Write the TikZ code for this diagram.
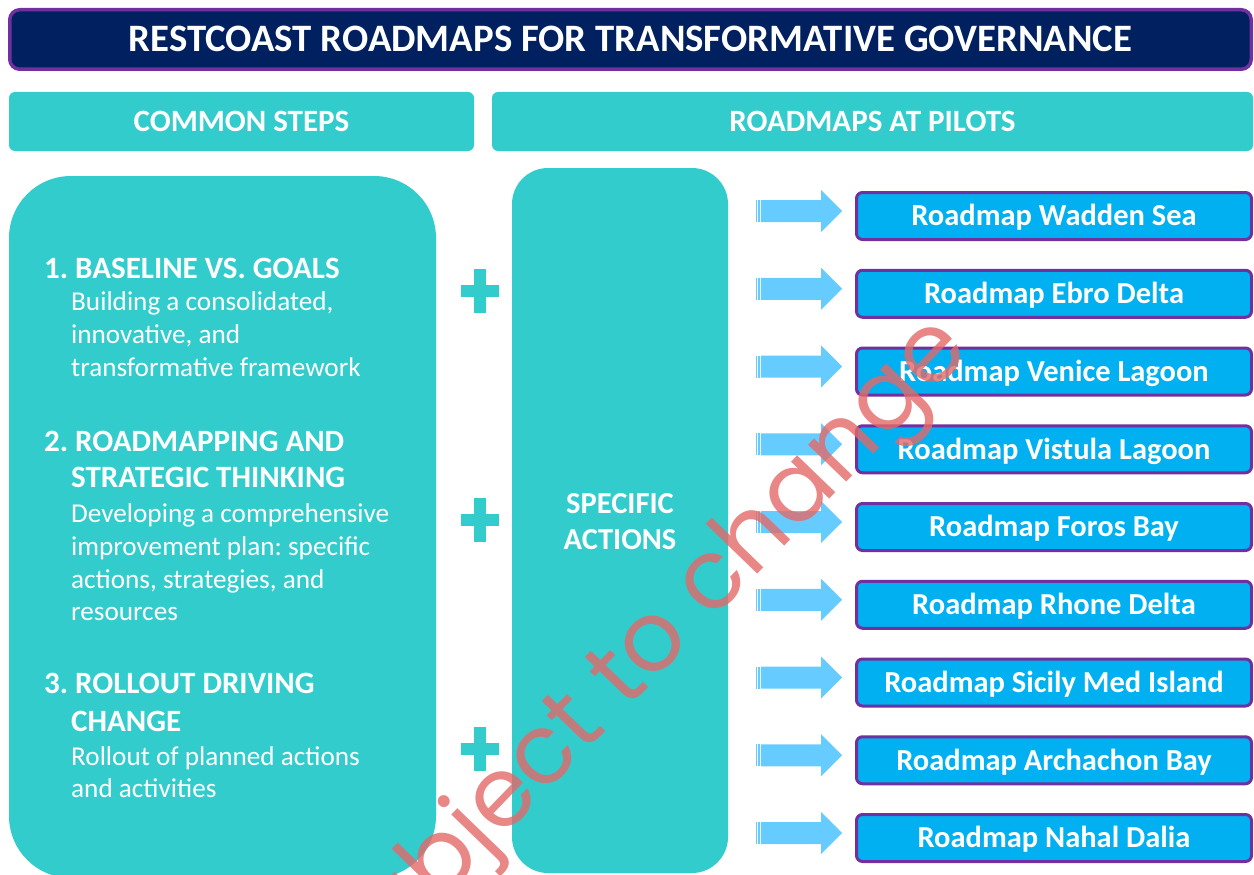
\documentclass[tikz,border=0pt]{standalone}
\usepackage{fontspec}
\setmainfont{Carlito}
\newfontfamily\wmfont{Poppins}
\usetikzlibrary{calc}
\frenchspacing

\definecolor{navyfill}{HTML}{002060}
\definecolor{violetline}{HTML}{7030A0}
\definecolor{tealfill}{HTML}{33CCCC}
\definecolor{roadfill}{HTML}{00B0F0}
\definecolor{arrowfill}{HTML}{66CCFF}
\definecolor{wmred}{RGB}{228,105,105}

\tikzset{
  titlebox/.style={draw=violetline, line width=3.5, fill=navyfill, rounded corners=10,
    text=white, font=\fontsize{38.8}{42}\selectfont\bfseries,
    minimum width=1241.5, minimum height=59.5, inner sep=0,
    text height=25, text depth=0},
  headbox/.style={fill=tealfill, rounded corners=6, text=white,
    font=\fontsize{31}{33}\selectfont\bfseries, minimum height=59, inner sep=0,
    text height=20, text depth=0},
  panel/.style={fill=tealfill, inner sep=0},
  roadbox/.style={draw=violetline, line width=3, fill=roadfill, rounded corners=6,
    text=white, font=\fontsize{30.5}{32}\selectfont\bfseries,
    minimum width=395, minimum height=47, inner sep=0,
    text height=19.6, text depth=0},
  stephead/.style={anchor=base west, inner sep=0, text=white,
    font=\fontsize{31}{33}\selectfont\bfseries},
  steptext/.style={anchor=base west, inner sep=0, text=white,
    font=\fontsize{27.2}{29}\selectfont},
  actiontext/.style={anchor=base, inner sep=0, text=white,
    font=\fontsize{30.5}{32}\selectfont\bfseries},
  plussign/.style={fill=tealfill},
  watermark/.style={text=wmred, opacity=0.8, inner sep=0,
    font=\fontsize{97}{100}\wmfont},
  pics/stripedarrow/.style={code={
    % tip at the origin, pointing right
    \fill[arrowfill] (-86,-11) rectangle (-84.6,11);
    \fill[arrowfill] (-83.6,-11) rectangle (-82.2,11);
    \fill[arrowfill] (-81.2,-11) -- (-21,-11) -- (-21,-21) -- (0,0)
      -- (-21,21) -- (-21,11) -- (-81.2,11) -- cycle;
  }},
}

\begin{document}
\begin{tikzpicture}[x=1pt,y=-1pt]
\useasboundingbox (0,0) rectangle (1254,875);

% title bar
\node[titlebox] (title) at (630.5,39.5) {RESTCOAST ROADMAPS FOR TRANSFORMATIVE GOVERNANCE};

% column headers
\node[headbox, minimum width=465] (common) at (241.5,121.5) {COMMON STEPS};
\node[headbox, minimum width=761] (pilots) at (872.5,121.5) {ROADMAPS AT PILOTS};

% common steps panel
\node[panel, rounded corners=62, minimum width=427, minimum height=702] (steps) at (222.5,527) {};

\node[stephead] (h1) at (44,278) {1. BASELINE VS. GOALS};
\node[steptext] (t1a) at (71,310) {Building a consolidated,};
\node[steptext] (t1b) at (71,343) {innovative, and};
\node[steptext] (t1c) at (71,376) {transformative framework};

\node[stephead] (h2a) at (44,451) {2. ROADMAPPING AND};
\node[stephead] (h2b) at (71,487) {STRATEGIC THINKING};
\node[steptext] (t2a) at (71,522) {Developing a comprehensive};
\node[steptext] (t2b) at (71,555) {improvement plan: specific};
\node[steptext] (t2c) at (71,588) {actions, strategies, and};
\node[steptext] (t2d) at (71,620) {resources};

\node[stephead] (h3a) at (44,693) {3. ROLLOUT DRIVING};
\node[stephead] (h3b) at (71,731) {CHANGE};
\node[steptext] (t3a) at (71,765) {Rollout of planned actions};
\node[steptext] (t3b) at (71,797) {and activities};

% plus signs between the two panels
\foreach \py in {291,520,749}{
  \fill[plussign] (460.5,{\py-6}) rectangle (498.5,{\py+6});
  \fill[plussign] (473.5,{\py-22}) rectangle (485.5,{\py+22});
}

% specific actions panel
\node[panel, rounded corners=36, minimum width=216, minimum height=705] (actions) at (620,520.5) {};
\node[actiontext] (a1) at (620,513) {SPECIFIC};
\node[actiontext] (a2) at (620,549) {ACTIONS};

% pilot roadmaps with their arrows
\foreach \i/\site in {1/Wadden Sea,2/Ebro Delta,3/Venice Lagoon,4/Vistula Lagoon,
  5/Foros Bay,6/Rhone Delta,7/Sicily Med Island,8/Archachon Bay,9/Nahal Dalia}{
  \node[roadbox] (rm\i) at (1054,{216+(\i-1)*77.75}) {Roadmap \site};
  \pic at ($(rm\i.west)+(-13,-5)$) {stripedarrow};
}

% watermark
\node[watermark, rotate=46, anchor=base east] (wm) at (972,352) {Subject to change};
\end{tikzpicture}
\end{document}
